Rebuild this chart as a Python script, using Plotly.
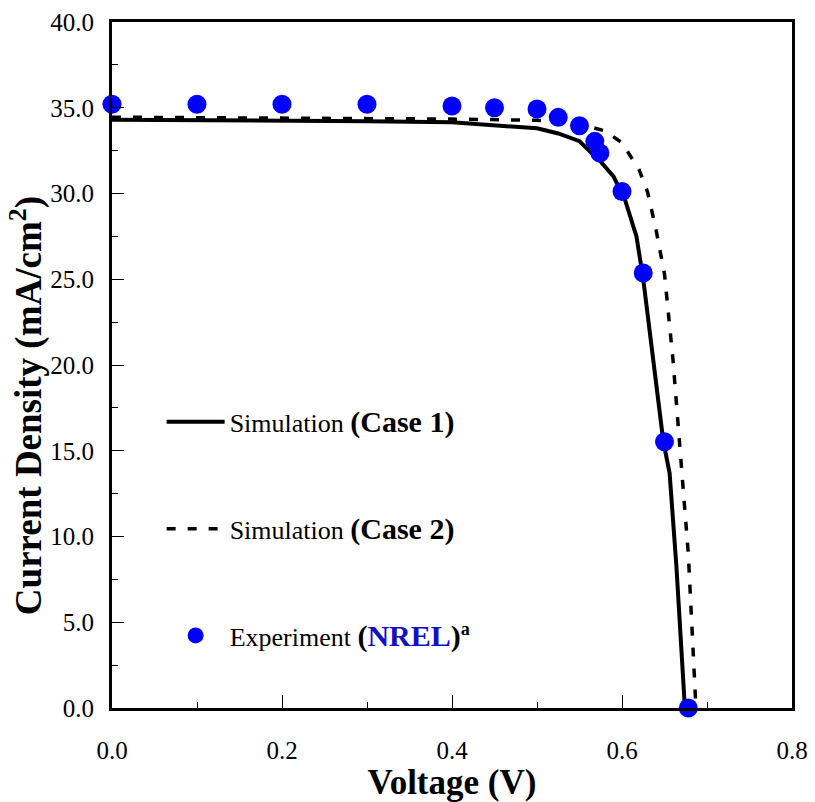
import plotly.graph_objects as go

# Simulation Case 1 (solid)
v_case1 = [0.0, 0.1, 0.2, 0.3, 0.4, 0.45, 0.5, 0.525, 0.55, 0.575, 0.59, 0.6035, 0.617, 0.625, 0.6486, 0.656, 0.664, 0.674]
j_case1 = [34.30, 34.28, 34.26, 34.22, 34.15, 34.0, 33.8, 33.5, 33.05, 31.85, 31.0, 29.64, 27.5, 25.0, 15.55, 13.7, 8.26, 0.0]

# Simulation Case 2 (dashed)
v_case2 = [0.0, 0.1, 0.2, 0.3, 0.4, 0.5, 0.55, 0.58, 0.6, 0.62, 0.63, 0.64, 0.65, 0.66, 0.67, 0.678, 0.687]
j_case2 = [34.45, 34.43, 34.41, 34.38, 34.34, 34.27, 34.05, 33.65, 32.96, 31.4, 30.1, 27.9, 25.3, 20.3, 14.3, 9.0, 0.0]

# Experiment (NREL)
v_exp = [0.0, 0.1, 0.2, 0.3, 0.4, 0.45, 0.5, 0.525, 0.55, 0.568, 0.574, 0.6, 0.625, 0.65, 0.678]
j_exp = [35.2, 35.2, 35.2, 35.2, 35.1, 35.0, 34.93, 34.44, 33.95, 33.04, 32.36, 30.12, 25.36, 15.53, 0.0]

x_ticks = [0.0, 0.2, 0.4, 0.6, 0.8]
y_ticks = [0, 5, 10, 15, 20, 25, 30, 35, 40]

SERIF = "Liberation Serif, Times New Roman, serif"
BIG = "<span style='font-size:30px'>"

fig = go.Figure()
fig.add_trace(go.Scatter(
    x=v_case1, y=j_case1, mode="lines",
    line=dict(color="black", width=4),
    name="Simulation " + BIG + "<b>(Case 1)</b></span>", legendgroup="g1",
))
fig.add_trace(go.Scatter(
    x=v_case2, y=j_case2, mode="lines",
    line=dict(color="black", width=3.5, dash="9px,12px"),
    name="Simulation " + BIG + "<b>(Case 2)</b></span>", legendgroup="g2",
))
fig.add_trace(go.Scatter(
    x=v_exp, y=j_exp, mode="markers",
    marker=dict(color="#0000FF", size=19, line=dict(width=0)),
    cliponaxis=False,
    name="Experiment " + BIG + "<b>(<span style='color:#1010C8'>NREL</span>)</b></span><b><sup>a</sup></b>",
    legendgroup="g3",
))

fig.update_layout(
    width=815, height=802,
    margin=dict(l=112, r=23, t=22, b=94),
    paper_bgcolor="white", plot_bgcolor="white",
    font=dict(family=SERIF, color="black", size=26),
    showlegend=True,
    legend=dict(
        x=0.073, y=0.261, xanchor="left", yanchor="middle",
        bgcolor="rgba(0,0,0,0)", borderwidth=0,
        font=dict(family=SERIF, size=26, color="black"),
        traceorder="grouped", tracegroupgap=70, itemwidth=58,
    ),
    xaxis=dict(
        range=[0, 0.8], tickvals=x_ticks, tickformat=".1f",
        showgrid=False, zeroline=False, automargin=False,
        showline=True, linecolor="black", linewidth=3, mirror=True,
        ticks="inside", ticklen=13, tickwidth=1, tickcolor="black",
        minor=dict(dtick=0.1, ticks="inside", ticklen=6, tickwidth=1, tickcolor="black", showgrid=False),
        tickfont=dict(family=SERIF, size=25),
        ticklabelstandoff=18,
        title=dict(text="<b>Voltage (V)</b>", font=dict(family=SERIF, size=35), standoff=8),
    ),
    yaxis=dict(
        range=[0, 40], tickvals=y_ticks, tickformat=".1f",
        showgrid=False, zeroline=False, automargin=False,
        showline=True, linecolor="black", linewidth=3, mirror=True,
        ticks="inside", ticklen=12, tickwidth=1, tickcolor="black",
        minor=dict(dtick=2.5, ticks="inside", ticklen=6, tickwidth=1, tickcolor="black", showgrid=False),
        tickfont=dict(family=SERIF, size=25),
        ticklabelstandoff=10,
    ),
    annotations=[dict(
        text="<b>Current Density (mA/cm<sup>2</sup>)</b>",
        xref="paper", yref="paper", x=-0.125, y=0.44,
        xanchor="center", yanchor="middle", textangle=-90, showarrow=False,
        font=dict(family=SERIF, size=37, color="black"),
    )],
)

fig.write_html("out.html")
